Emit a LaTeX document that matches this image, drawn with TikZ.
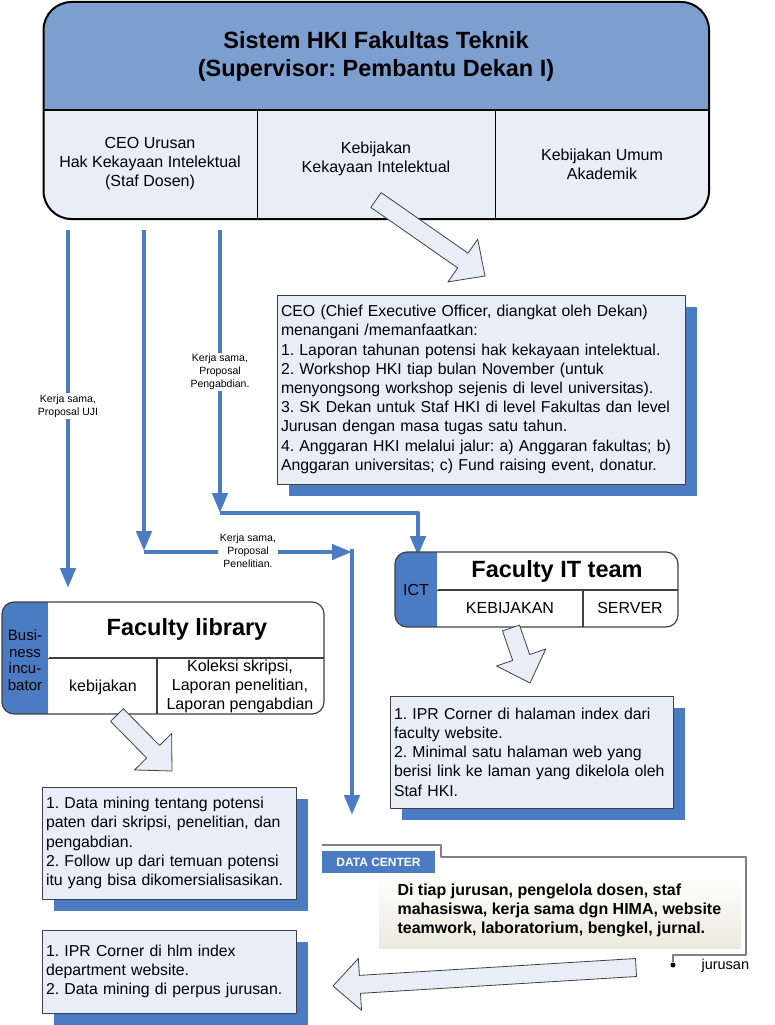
\documentclass[tikz,border=0pt]{standalone}
\usepackage{fontspec}
\setmainfont{Liberation Sans}
\usepackage{tikz}
\usetikzlibrary{arrows.meta,calc,shadows}
\frenchspacing

\definecolor{hdrblue}{RGB}{124,159,207}
\definecolor{paleblue}{RGB}{232,238,248}
\definecolor{deepblue}{RGB}{74,123,195}
\definecolor{panelgray}{RGB}{234,234,222}
\definecolor{boxgray}{RGB}{64,64,64}

% hollow block arrow from tail coordinate #1 to tip coordinate #2
\newcommand{\blockarrow}[2]{%
  \coordinate (#1-h) at ($(#2)!27pt!(#1)$);
  \draw[hollow] ($(#1)!9pt!90:(#2)$) -- ($(#1-h)!9pt!90:(#2)$) -- ($(#1-h)!26pt!90:(#2)$) -- (#2)
    -- ($(#1-h)!26pt!-90:(#2)$) -- ($(#1-h)!9pt!-90:(#2)$) -- ($(#1)!9pt!-90:(#2)$) -- cycle;}

\begin{document}
\begin{tikzpicture}[x=1pt,y=-1pt,line join=round]
  \tikzstyle{cell}=[align=center,font=\fontsize{16}{19}\selectfont]
  \tikzstyle{heading}=[align=center,font=\bfseries\fontsize{23.5}{28}\selectfont]
  \tikzstyle{note}=[draw=boxgray,fill=paleblue,line width=1pt,align=left,inner xsep=4pt,
    font=\fontsize{15.8}{19.2}\selectfont,
    drop shadow={shadow xshift=11.5pt,shadow yshift=-11.5pt,fill=deepblue,opacity=1}]
  \tikzstyle{flow}=[draw=deepblue,line width=4.5pt,-{Triangle[width=15pt,length=20pt]}]
  \tikzstyle{flowlbl}=[fill=white,align=center,font=\fontsize{10.5}{13}\selectfont,inner sep=1.5pt]
  \tikzstyle{hollow}=[draw=boxgray,fill=paleblue,line width=0.8pt]
  \tikzstyle{unit}=[draw=boxgray,fill=white,line width=1.2pt,rounded corners=12pt,inner sep=0pt]
  \tikzstyle{rule}=[draw=boxgray,line width=1.2pt]

  \useasboundingbox (0,0) rectangle (774,1025);

  % top system box
  \node[draw=black,line width=2pt,fill=paleblue,rounded corners=28pt,minimum width=665.5pt,
    minimum height=217pt,inner sep=0pt,
    path picture={\fill[hdrblue,sharp corners] (path picture bounding box.north west) rectangle (path picture bounding box.east);}]
    (hki) at (376.25,110.5) {};
  \draw[black,line width=1.5pt] (43.5,110) -- (709,110);
  \draw[black,line width=1pt] (257.5,110) -- (257.5,219) (495,110) -- (495,219);

  \node[heading] (title) at (376,56) {Sistem HKI Fakultas Teknik\\(Supervisor: Pembantu Dekan I)};
  \node[cell] (ceo) at (150,164) {CEO Urusan\\Hak Kekayaan Intelektual\\(Staf Dosen)};
  \node[cell] (kki) at (376,159) {Kebijakan\\Kekayaan Intelektual};
  \node[cell] (kua) at (602,164) {Kebijakan Umum\\Akademik};

  \coordinate (hkiout) at (376,200);
  \coordinate (ceoin) at (485,276);
  \blockarrow{hkiout}{ceoin}

  \node[note,text width=400pt,minimum height=189pt] (ceotask) at (481,389.5)
    {CEO (Chief Executive Officer, diangkat oleh Dekan)\\
     menangani /memanfaatkan:\\
     1. Laporan tahunan potensi hak kekayaan intelektual.\\
     2. Workshop HKI tiap bulan November (untuk\\
     menyongsong workshop sejenis di level universitas).\\
     3. SK Dekan untuk Staf HKI di level Fakultas dan level\\
     Jurusan dengan masa tugas satu tahun.\\
     4. Anggaran HKI melalui jalur: a) Anggaran fakultas; b)\\
     Anggaran universitas; c) Fund raising event, donatur.};

  % blue flows
  \coordinate (uji0) at (68,230);
  \coordinate (uji1) at (68,588);
  \draw[flow] (uji0) -- (uji1);
  \node[flowlbl] (ujilbl) at (68,406) {Kerja sama,\\Proposal UJI};

  \coordinate (lit0) at (144,230);
  \coordinate (lit1) at (144,551);
  \coordinate (lit2) at (352,552);
  \coordinate (dc0) at (352,549);
  \coordinate (dc1) at (352,815);
  \draw[flow] (lit0) -- (lit1);
  \draw[flow] (lit0 |- lit2) -- (lit2);
  \draw[flow] (dc0) -- (dc1);
  \node[flowlbl] (litlbl) at (248,551) {Kerja sama,\\Proposal\\Penelitian.};

  \coordinate (abd0) at (220,230);
  \coordinate (abd1) at (220,513);
  \coordinate (ict0) at (418,556);
  \draw[flow] (abd0) -- (abd1);
  \draw[flow] (abd1) -| (ict0);
  \node[flowlbl] (abdlbl) at (220,372) {Kerja sama,\\Proposal\\Pengabdian.};

  % faculty IT team
  \node[unit,minimum width=283pt,minimum height=75pt,
    path picture={\fill[deepblue,sharp corners] (path picture bounding box.north west) rectangle ([xshift=42pt]path picture bounding box.south west);}]
    (ictteam) at (536.5,589.5) {};
  \draw[rule] (437,590) -- (678,590) (583,590) -- (583,627);
  \draw[white,dotted,line width=1pt] (437,553) -- (437,626);
  \node[cell] (ictlbl) at (416,590) {ICT};
  \node[heading] (ictname) at (557,571) {Faculty IT team};
  \node[cell] (ictpol) at (510,608) {KEBIJAKAN};
  \node[cell] (ictsrv) at (630,608) {SERVER};

  \coordinate (ictout) at (511,628);
  \coordinate (ictin) at (530,683);
  \blockarrow{ictout}{ictin}

  \node[note,text width=275pt,minimum height=112pt] (icttask) at (531.5,752)
    {1. IPR Corner di halaman index dari\\
     faculty website.\\
     2. Minimal satu halaman web yang\\
     berisi link ke laman yang dikelola oleh\\
     Staf HKI.};

  % faculty library
  \node[unit,minimum width=322pt,minimum height=112pt,
    path picture={\fill[deepblue,sharp corners] (path picture bounding box.north west) rectangle ([xshift=46pt]path picture bounding box.south west);}]
    (faclib) at (163,658) {};
  \draw[rule] (48,658) -- (324,658) (157,658) -- (157,714);
  \draw[white,dotted,line width=1pt] (48,603) -- (48,713);
  \node[align=center,font=\fontsize{15}{16.5}\selectfont] (incub) at (25,660) {Busi-\\ness\\incu-\\bator};
  \node[heading] (libname) at (187,629) {Faculty library};
  \node[cell] (libpol) at (103,687) {kebijakan};
  \node[cell] (libcol) at (240,686) {Koleksi skripsi,\\Laporan penelitian,\\Laporan pengabdian};

  \coordinate (libout) at (117,715);
  \coordinate (libin) at (172,771);
  \blockarrow{libout}{libin}

  \node[note,text width=246pt,minimum height=112pt] (libtask) at (169,843)
    {1. Data mining tentang potensi\\
     paten dari skripsi, penelitian, dan\\
     pengabdian.\\
     2. Follow up dari temuan potensi\\
     itu yang bisa dikomersialisasikan.};

  \node[note,text width=246pt,minimum height=83pt] (depttask) at (169,971.5)
    {1. IPR Corner di hlm index\\
     department website.\\
     2. Data mining di perpus jurusan.};

  % data center
  \node[minimum width=362pt,minimum height=75pt,top color=white,bottom color=panelgray,inner sep=0pt]
    (dcpanel) at (560,910.5) {};
  \node[anchor=west,align=left,font=\bfseries\fontsize{16}{19}\selectfont] (dctext) at (394,910)
    {Di tiap jurusan, pengelola dosen, staf\\mahasiswa, kerja sama dgn HIMA, website\\teamwork, laboratorium, bengkel, jurnal.};
  \coordinate (dctab) at (322,845);
  \node[circle,fill=black,inner sep=0pt,minimum size=5pt] (jdot) at (673,965) {};
  \draw[gray,line width=1.2pt] (dctab) -- (441,845) -- (441,857) -- (746,857) -- (746,955) -| (jdot);
  \node[anchor=west,font=\fontsize{14.5}{17}\selectfont] (jur) at (698,966) {jurusan};
  \node[fill=deepblue,text=white,font=\bfseries\fontsize{12}{14}\selectfont,minimum width=113pt,
    minimum height=22pt,inner sep=0pt] (dclbl) at (378.5,862) {DATA CENTER};

  \coordinate (dcout) at (636,967.5);
  \coordinate (deptin) at (333,986);
  \blockarrow{dcout}{deptin}

\end{tikzpicture}
\end{document}
